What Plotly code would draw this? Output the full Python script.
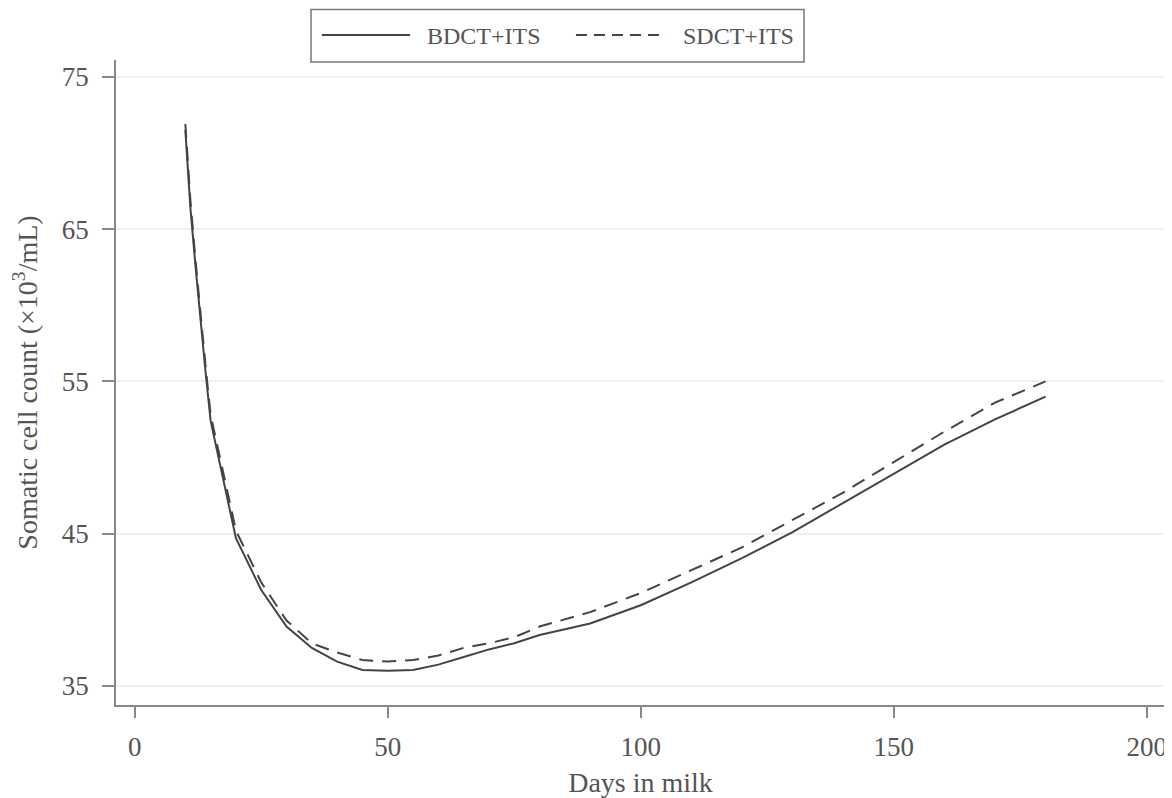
import plotly.graph_objects as go

days = [10, 11, 12, 13, 14, 15, 20, 25, 30, 35, 40, 45, 50, 55, 60, 65, 70, 75, 80,
        90, 100, 110, 120, 130, 140, 150, 160, 170, 180]
bdct_its = [71.5, 66.4, 62.6, 58.9, 55.6, 52.4, 44.7, 41.3, 38.9, 37.5, 36.6, 36.05, 36.0, 36.05, 36.4,
            36.9, 37.4, 37.8, 38.35, 39.1, 40.3, 41.8, 43.4, 45.1, 47.0, 48.9, 50.85, 52.5, 54.0]
sdct_its = [71.9, 66.9, 63.0, 59.3, 56.0, 52.8, 45.2, 41.8, 39.3, 37.8, 37.2, 36.7, 36.6, 36.7, 37.0,
            37.5, 37.8, 38.2, 38.9, 39.85, 41.1, 42.6, 44.1, 45.9, 47.7, 49.7, 51.7, 53.6, 55.0]
series_names = ["BDCT+ITS", "SDCT+ITS"]

x_ticks = [0, 50, 100, 150, 200]
y_ticks = [35, 45, 55, 65, 75]

FONT = "Liberation Serif, Times New Roman, serif"
TXT = "#555555"
LINE = "#444444"
AX = "#888888"
DASH = "14px,9px"

fig = go.Figure()
fig.add_trace(go.Scatter(x=days, y=bdct_its, mode="lines", name=series_names[0],
                         line=dict(color=LINE, width=2)))
fig.add_trace(go.Scatter(x=days, y=sdct_its, mode="lines", name=series_names[1],
                         line=dict(color=LINE, width=2, dash=DASH)))

# Legend drawn as a boxed key above the plot (paper coordinates)
fig.add_shape(type="rect", xref="paper", yref="paper", x0=0.1859, x1=0.6559, y0=0.9969, y1=1.0783,
              line=dict(color="#777777", width=1.5), fillcolor="white", layer="above")
fig.add_shape(type="line", xref="paper", yref="paper", x0=0.1963, x1=0.2803, y0=1.0388, y1=1.0388,
              line=dict(color=LINE, width=2))
fig.add_shape(type="line", xref="paper", yref="paper", x0=0.4385, x1=0.5243, y0=1.0388, y1=1.0388,
              line=dict(color=LINE, width=2, dash="11px,7px"))
fig.add_annotation(xref="paper", yref="paper", x=0.2946, y=1.0372, xanchor="left", yanchor="middle",
                   text=series_names[0], showarrow=False, font=dict(size=24, color=TXT))
fig.add_annotation(xref="paper", yref="paper", x=0.5386, y=1.0372, xanchor="left", yanchor="middle",
                   text=series_names[1], showarrow=False, font=dict(size=24, color=TXT))

fig.update_layout(
    width=1164, height=790,
    margin=dict(l=108, r=7, t=52, b=93),
    paper_bgcolor="white", plot_bgcolor="white",
    font=dict(family=FONT, size=27, color=TXT),
    showlegend=False,
    xaxis=dict(range=[-3.7, 203.6], tickvals=x_ticks, ticks="outside", ticklen=11,
               tickcolor=AX, tickwidth=1.5, showline=True, linecolor=AX,
               linewidth=1.5, showgrid=False, zeroline=False, automargin=False,
               ticklabelstandoff=6,
               title=dict(text="Days in milk", font=dict(size=28, color=TXT), standoff=12),
               tickfont=dict(size=27, color=TXT)),
    yaxis=dict(range=[33.75, 76.1], tickvals=y_ticks, ticks="outside", ticklen=12,
               tickcolor=AX, tickwidth=1.5, showline=True, linecolor=AX,
               linewidth=1.5, showgrid=True, gridcolor="#efefef", gridwidth=1.5,
               zeroline=False, automargin=False, ticklabelstandoff=8,
               title=dict(text="Somatic cell count (×10<sup>3</sup>/mL)",
                          font=dict(size=28, color=TXT), standoff=16),
               tickfont=dict(size=27, color=TXT)),
)

fig.write_html("out.html")
